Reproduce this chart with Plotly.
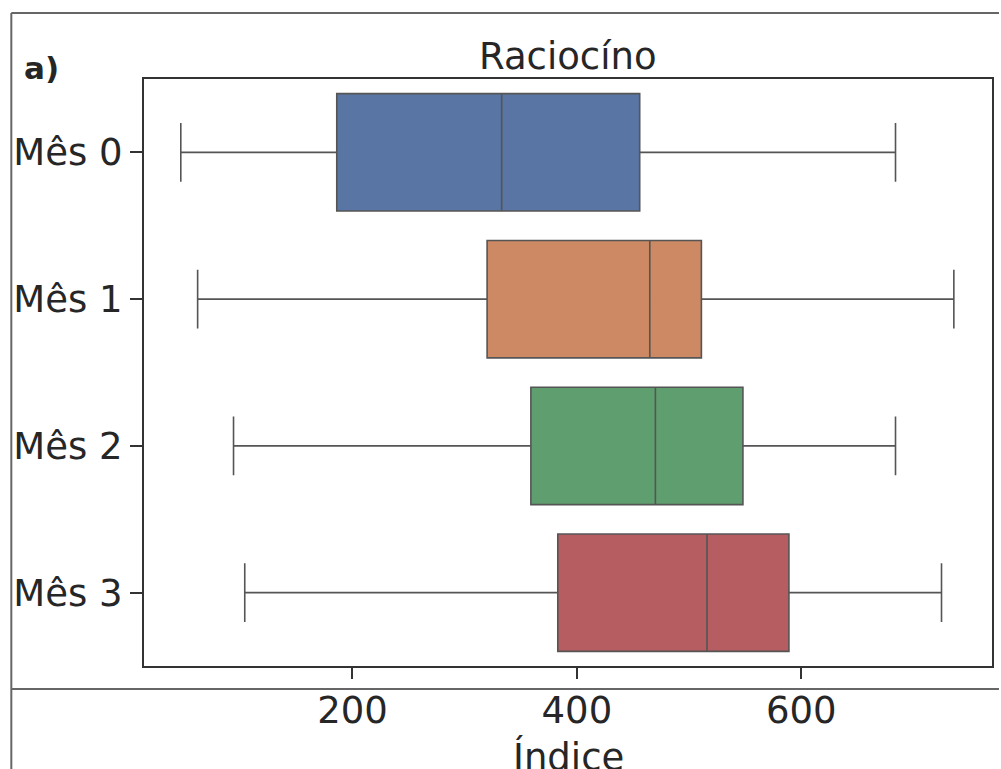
import plotly.graph_objects as go

categories = ["Mês 0", "Mês 1", "Mês 2", "Mês 3"]
lower_whisker = [47, 62, 94, 104]
q1_values = [186, 320, 359, 383]
median_values = [333, 465, 470, 516]
q3_values = [456, 511, 548, 589]
upper_whisker = [684, 736, 684, 725]
box_colors = ["#5875a4", "#cc8963", "#5f9e6e", "#b55d60"]
x_ticks = [200, 400, 600]

title_text = "Raciocíno"
x_label = "Índice"
panel_label = "a)"

FONT = "DejaVu Sans"
W, H = 1001, 769
L, R, T, B = 144, 7, 79, 103
pw, ph = W - L - R, H - T - B


def px_x(p):
    return (p - L) / pw


def px_y(p):
    return (H - B - p) / ph


fig = go.Figure()
for i, cat in enumerate(categories):
    fig.add_trace(go.Box(
        y=[cat],
        q1=[q1_values[i]],
        median=[median_values[i]],
        q3=[q3_values[i]],
        lowerfence=[lower_whisker[i]],
        upperfence=[upper_whisker[i]],
        orientation="h",
        fillcolor=box_colors[i],
        line=dict(color="#555555", width=1.6),
        whiskerwidth=0.5,
        boxpoints=False,
        showlegend=False,
        hoverinfo="skip",
    ))

fig.update_layout(
    width=W, height=H,
    margin=dict(l=L, r=R, t=T, b=B, pad=0),
    paper_bgcolor="white",
    plot_bgcolor="white",
    boxmode="overlay",
    boxgap=0.2,
    boxgroupgap=0,
    font=dict(family=FONT, size=37, color="#262626"),
    showlegend=False,
)

fig.update_xaxes(
    range=[14.2, 770],
    tickvals=x_ticks,
    ticktext=[str(v) for v in x_ticks],
    ticks="outside", ticklen=11, tickwidth=1.8, tickcolor="#333333",
    showline=True, linecolor="#333333", linewidth=2, mirror=True,
    showgrid=False, zeroline=False,
    tickfont=dict(family=FONT, size=37, color="#262626"),
)
fig.update_yaxes(
    categoryorder="array", categoryarray=categories,
    range=[3.5, -0.5],
    ticks="outside", ticklen=12, tickwidth=1.8, tickcolor="#333333",
    showline=True, linecolor="#333333", linewidth=2, mirror=True,
    showgrid=False, zeroline=False,
    tickfont=dict(family=FONT, size=37, color="#262626"),
)

# title
fig.add_annotation(
    text=title_text, xref="paper", yref="paper",
    x=0.5, y=px_y(68), xanchor="center", yanchor="bottom",
    yshift=-12, showarrow=False,
    font=dict(family=FONT, size=37, color="#262626"),
)
# panel label
fig.add_annotation(
    text="<b>" + panel_label + "</b>", xref="paper", yref="paper",
    x=px_x(22), y=px_y(68), xanchor="left", yanchor="middle",
    showarrow=False,
    font=dict(family=FONT, size=31, color="#262626"),
)
# x label
fig.add_annotation(
    text=x_label, xref="paper", yref="paper",
    x=0.5, y=px_y(733), xanchor="center", yanchor="top",
    showarrow=False,
    font=dict(family=FONT, size=37, color="#262626"),
)

# outer frame lines of the cropped figure
line_style = dict(color="#666666", width=2)
fig.add_shape(type="line", xref="paper", yref="paper",
              x0=px_x(11), x1=px_x(1001), y0=px_y(13), y1=px_y(13), line=line_style)
fig.add_shape(type="line", xref="paper", yref="paper",
              x0=px_x(11), x1=px_x(11), y0=px_y(13), y1=px_y(769), line=line_style)
fig.add_shape(type="line", xref="paper", yref="paper",
              x0=px_x(11), x1=px_x(1001), y0=px_y(689), y1=px_y(689), line=line_style)

fig.write_html(
    "out.html",
    config={"displayModeBar": False},
    post_script="document.body.style.margin='0';document.body.style.overflow='hidden';",
)
